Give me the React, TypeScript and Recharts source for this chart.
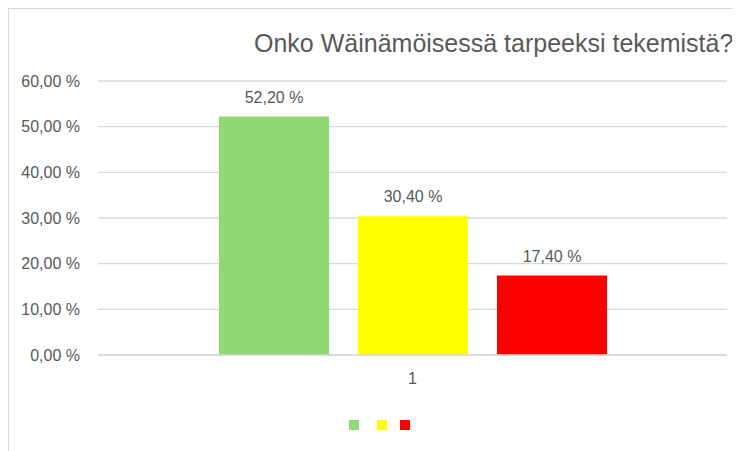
import React from 'react';
import { BarChart, Bar, XAxis, YAxis, CartesianGrid, LabelList, Legend } from 'recharts';

const categories = ['1'];
const seriesGreen = [52.2];
const seriesYellow = [30.4];
const seriesRed = [17.4];
const yTicks = [0, 10, 20, 30, 40, 50, 60];
const title = 'Onko Wäinämöisessä tarpeeksi tekemistä?';

const colors = { green: '#8FD873', yellow: '#FFFF00', red: '#FF0000' };

const data = categories.map((c, i) => ({
  name: c,
  a: seriesGreen[i],
  b: seriesYellow[i],
  c: seriesRed[i],
}));

const FONT = '"Liberation Sans", Arial, sans-serif';
const TEXT = '#595959';
const GRID = '#d9d9d9';

const fmt = (v: number) => v.toFixed(2).replace('.', ',') + ' %';

const legendOffsets = [341, 369, 392];

const LegendContent = (props: any) => {
  const payload = props.payload || [];
  return (
    <div style={{ position: 'relative', height: 10, width: 724 }}>
      {payload.map((p: any, i: number) => (
        <div
          key={i}
          style={{
            position: 'absolute',
            left: legendOffsets[i],
            top: 0,
            width: 10,
            height: 10,
            background: p.color,
          }}
        />
      ))}
    </div>
  );
};

export default function App() {
  return (
    <div style={{ position: 'relative', width: 724, height: 443, fontFamily: FONT }}>
      <div
        style={{
          position: 'absolute',
          left: -1,
          top: -1,
          width: 733,
          height: 450,
          borderTop: `2px solid ${GRID}`,
          borderLeft: `2px solid ${GRID}`,
          boxSizing: 'border-box',
        }}
      />
      <div
        style={{
          position: 'absolute',
          left: 246,
          top: 23,
          fontSize: 25,
          lineHeight: '25px',
          color: TEXT,
          whiteSpace: 'nowrap',
          fontFamily: FONT,
        }}
      >
        {title}
      </div>
      <div style={{ position: 'absolute', left: 0, top: 0 }}>
        <BarChart
          width={732}
          height={443}
          data={data}
          margin={{ top: 73, right: 13, left: 0, bottom: 56 }}
          barGap={29}
          barSize={110}
        >
          <CartesianGrid vertical={false} stroke={GRID} strokeWidth={1.3} />
          <XAxis
            dataKey="name"
            height={30}
            tickLine={false}
            tickSize={0}
            tickMargin={18}
            axisLine={{ stroke: GRID, strokeWidth: 1.3 }}
            tick={{ fill: TEXT, fontSize: 16, fontFamily: FONT }}
          />
          <YAxis
            width={90}
            domain={[0, 60]}
            ticks={yTicks}
            interval={0}
            tickFormatter={fmt}
            axisLine={false}
            tickLine={false}
            tickSize={0}
            tickMargin={18}
            tick={{ fill: TEXT, fontSize: 16, fontFamily: FONT }}
          />
          <Legend
            content={<LegendContent />}
            verticalAlign="bottom"
            wrapperStyle={{ top: 412, bottom: 'auto', left: 0, width: 724, height: 10 }}
          />
          <Bar dataKey="a" fill={colors.green} isAnimationActive={false}>
            <LabelList dataKey="a" position="top" offset={14} formatter={fmt} fill={TEXT} fontSize={16} fontFamily={FONT} />
          </Bar>
          <Bar dataKey="b" fill={colors.yellow} isAnimationActive={false}>
            <LabelList dataKey="b" position="top" offset={14} formatter={fmt} fill={TEXT} fontSize={16} fontFamily={FONT} />
          </Bar>
          <Bar dataKey="c" fill={colors.red} isAnimationActive={false}>
            <LabelList dataKey="c" position="top" offset={14} formatter={fmt} fill={TEXT} fontSize={16} fontFamily={FONT} />
          </Bar>
        </BarChart>
      </div>
    </div>
  );
}
